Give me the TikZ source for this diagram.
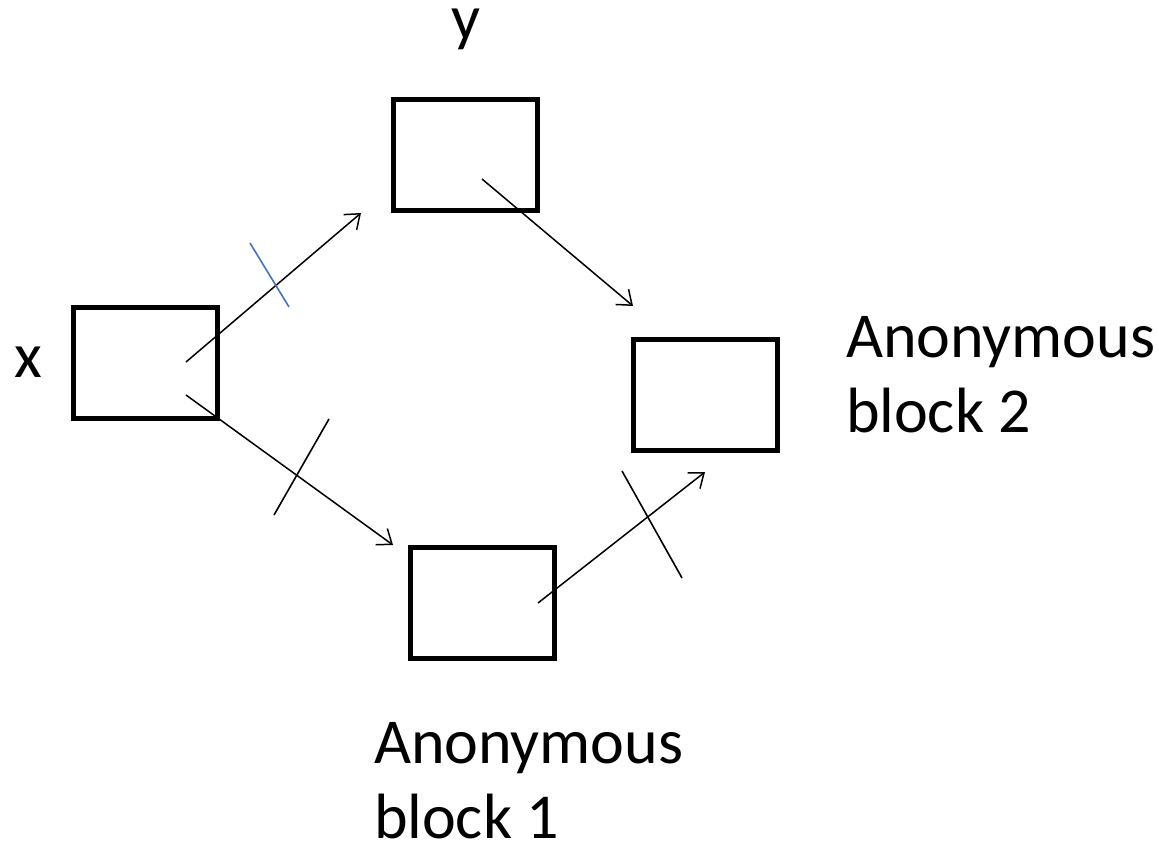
\documentclass[tikz,border=0pt]{standalone}
\usepackage{fontspec}
\setmainfont{Carlito}
\usetikzlibrary{arrows.meta}
\definecolor{tickblue}{RGB}{68,114,196}
\begin{document}
\begin{tikzpicture}[x=1pt,y=-1pt,
  blk/.style={draw=black,line width=5pt,minimum width=144pt,minimum height=111pt,inner sep=0pt,outer sep=0pt},
  conn/.style={line width=1.5pt,-{Straight Barb[length=13pt,width=20pt,line width=1.5pt]}},
  tickmark/.style={line width=1.6pt},
  lbl/.style={font=\fontsize{64}{75}\selectfont,inner sep=0pt,outer sep=0pt,align=left}]
\useasboundingbox (0,0) rectangle (1159,842);
\node[blk] (X) at (145.75,363) {};
\node[blk] (Y) at (465.5,155) {};
\node[blk] (B2) at (705,394.5) {};
\node[blk] (B1) at (482,603) {};
\node[lbl,anchor=base west] (lx) at (14,377) {x};
\node[lbl,anchor=base west] (ly) at (451,40) {y};
\node[lbl,anchor=north west] (lb2) at (846,316) {Anonymous\\block 2};
\node[lbl,anchor=north west] (lb1) at (374,722) {Anonymous\\block 1};
\coordinate (s1) at (186,362);
\coordinate (t1) at (361,213);
\coordinate (s2) at (186,395);
\coordinate (t2) at (393,545);
\coordinate (s3) at (538,603);
\coordinate (t3) at (705,472);
\coordinate (s4) at (482,179);
\coordinate (t4) at (633,306);
\draw[conn] (s1) -- (t1);
\draw[conn] (s2) -- (t2);
\draw[conn] (s3) -- (t3);
\draw[conn] (s4) -- (t4);
\draw[tickmark,draw=tickblue] (250,243) -- (289,307);
\draw[tickmark] (329,419) -- (274,515);
\draw[tickmark] (622,471) -- (682,578);
\end{tikzpicture}
\end{document}
